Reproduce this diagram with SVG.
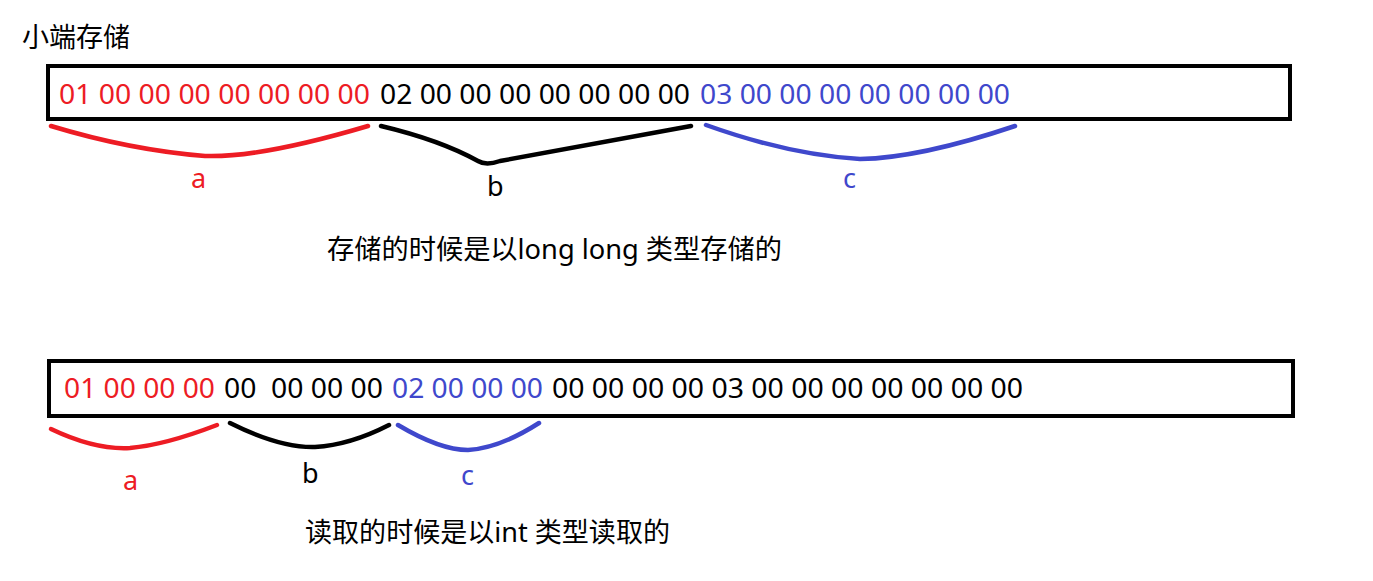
<svg xmlns="http://www.w3.org/2000/svg" width="1373" height="581" viewBox="0 0 1373 581">
<style>
text{font-family:"Noto Sans","Noto Sans CJK SC",sans-serif;}
.hex{font-size:28px;}
.lbl{font-size:27px;}
.r{fill:#ED1C24}.k{fill:#000}.b{fill:#3F48CC}
.box{fill:#fff;stroke:#000;stroke-width:4}
.br{fill:none;stroke-width:4.5;stroke-linecap:round;stroke-linejoin:round}
</style>
<rect width="1373" height="581" fill="#fff"/>
<text x="22" y="47" class="lbl">小端存储</text>
<g id="top-box">
<rect class="box" x="48" y="66" width="1242" height="53"/>
<text class="hex r" x="59" y="104" textLength="311" lengthAdjust="spacingAndGlyphs">01 00 00 00 00 00 00 00</text>
<text class="hex k" x="380" y="104" textLength="310" lengthAdjust="spacingAndGlyphs">02 00 00 00 00 00 00 00</text>
<text class="hex b" x="700" y="104" textLength="310" lengthAdjust="spacingAndGlyphs">03 00 00 00 00 00 00 00</text>
</g>
<g id="connectors">
<path class="br" stroke="#ED1C24" d="M51 126 Q130 150 205 156 Q260 158 368 126"/>
<path class="br" stroke="#000" d="M381 126 Q440 140 478 161 Q486 166 500 161 L691 126"/>
<path class="br" stroke="#3F48CC" d="M706 125 Q790 155 860 159 Q920 158 1015 126"/>
<path class="br" stroke="#ED1C24" d="M51 429 Q95 450 130 448 Q165 445 217 425"/>
<path class="br" stroke="#000" d="M230 423 Q280 448 315 447 Q350 445 389 425"/>
<path class="br" stroke="#3F48CC" d="M398 425 Q440 450 468 450 Q500 448 539 423"/>
</g>
<g id="top-labels">
<text class="lbl r" x="191" y="188">a</text>
<text class="lbl k" x="487" y="196">b</text>
<text class="lbl b" x="843" y="188">c</text>
</g>
<text class="lbl" x="327" y="259" textLength="455" lengthAdjust="spacingAndGlyphs">存储的时候是以long long 类型存储的</text>
<g id="bottom-box">
<rect class="box" x="49" y="361" width="1244" height="55"/>
<text class="hex r" x="64" y="398" textLength="151" lengthAdjust="spacingAndGlyphs">01 00 00 00</text>
<text class="hex k" x="224" y="398" textLength="159" lengthAdjust="spacingAndGlyphs" xml:space="preserve">00  00 00 00</text>
<text class="hex b" x="392" y="398" textLength="151" lengthAdjust="spacingAndGlyphs">02 00 00 00</text>
<text class="hex k" x="552" y="398" textLength="471" lengthAdjust="spacingAndGlyphs">00 00 00 00 03 00 00 00 00 00 00 00</text>
</g>
<g id="bottom-labels">
<text class="lbl r" x="123" y="490">a</text>
<text class="lbl k" x="302" y="483">b</text>
<text class="lbl b" x="461" y="485">c</text>
</g>
<text class="lbl" x="305" y="542" textLength="365" lengthAdjust="spacingAndGlyphs">读取的时候是以int 类型读取的</text>
</svg>
